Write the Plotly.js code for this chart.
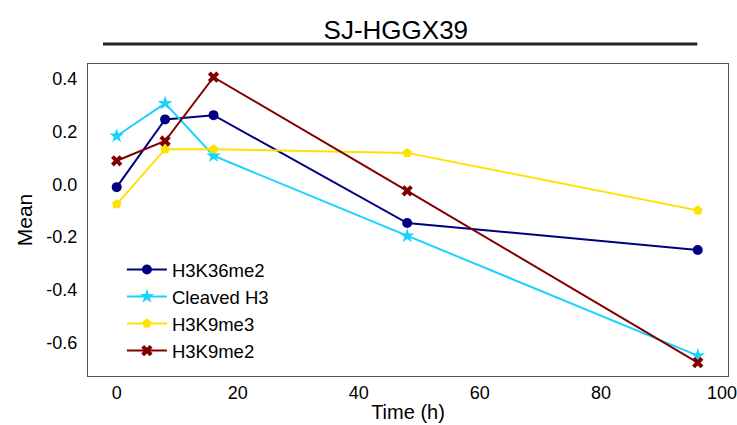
<!DOCTYPE html>
<html>
<head>
<meta charset="utf-8">
<script src="https://cdn.plot.ly/plotly-3.0.1.min.js"></script>
<style>html,body{margin:0;padding:0;background:#fff;}#chart{width:737px;height:425px;}</style>
</head>
<body>
<div id="chart"></div>
<script>
const time = [0, 8, 16, 48, 96];
const seriesNames = ["H3K36me2", "Cleaved H3", "H3K9me3", "H3K9me2"];
const h3k36me2 = [-0.011, 0.246, 0.262, -0.147, -0.249];
const cleavedH3 = [0.183, 0.307, 0.108, -0.196, -0.650];
const h3k9me3 = [-0.076, 0.133, 0.133, 0.119, -0.099];
const h3k9me2 = [0.089, 0.164, 0.406, -0.025, -0.676];
const xTicks = [0, 20, 40, 60, 80, 100];
const yTicks = [0.4, 0.2, 0.0, -0.2, -0.4, -0.6];
const yTickText = ["0.4", "0.2", "0.0", "-0.2", "-0.4", "-0.6"];

const values = [h3k36me2, cleavedH3, h3k9me3, h3k9me2];
const colors = ["#000080", "#19d3ff", "#ffe000", "#800000"];
const symbols = ["circle", "star", "pentagon", "x"];
const sizes = [10, 11, 10, 10];

const traces = values.map((v, i) => ({
  x: time, y: v, name: seriesNames[i], type: "scatter", mode: "lines+markers",
  line: {color: colors[i], width: 2},
  marker: {color: colors[i], symbol: symbols[i], size: sizes[i]}
}));

const font = "Liberation Sans, Arial, sans-serif";
const layout = {
  width: 737, height: 425,
  margin: {l: 88, r: 9, t: 64, b: 49},
  paper_bgcolor: "#fff", plot_bgcolor: "#fff",
  font: {family: font, color: "#000"},
  title: {text: "SJ-HGGX39", font: {size: 26, family: font, color: "#000"},
          xref: "paper", x: 0.481, xanchor: "center", yref: "container", y: 0.93, yanchor: "middle"},
  xaxis: {range: [-4.74, 101.0], tickvals: xTicks, ticks: "", showgrid: false, zeroline: false,
          showline: true, mirror: true, linecolor: "#555", linewidth: 1,
          tickfont: {size: 18}, title: {text: "Time (h)", font: {size: 20}, standoff: 3}},
  yaxis: {range: [-0.727, 0.456], tickvals: yTicks, ticktext: yTickText, ticks: "", showgrid: false, zeroline: false,
          showline: true, mirror: true, linecolor: "#555", linewidth: 1, ticklabelstandoff: 6,
          tickfont: {size: 18}, title: {text: "Mean", font: {size: 21}, standoff: 8}},
  legend: {x: 0.053, y: 0.401, xanchor: "left", yanchor: "top", bgcolor: "rgba(0,0,0,0)",
           font: {size: 18.5}, itemwidth: 40, tracegroupgap: 0},
  shapes: [{type: "line", xref: "paper", yref: "paper", x0: 0.0234, x1: 0.952, y0: 1.064, y1: 1.064,
            line: {color: "#222", width: 3}}]
};
Plotly.newPlot("chart", traces, layout, {displayModeBar: false, staticPlot: true});
</script>
</body>
</html>
